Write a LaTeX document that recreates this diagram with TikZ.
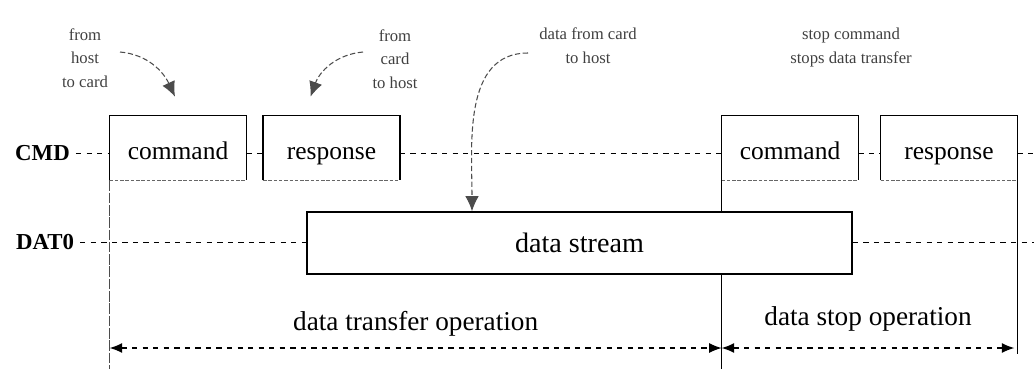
\documentclass[tikz,border=0pt]{standalone}
\usepackage{fontspec}
\setmainfont{Liberation Serif}
\usetikzlibrary{arrows.meta}

\begin{document}
\begin{tikzpicture}[
    lane/.style={font=\fontsize{13}{15}\selectfont\bfseries},
    frame/.style={minimum width=2.72cm, minimum height=1.28cm, inner sep=0pt,
                  text height=1.4em, text depth=0.1em, font=\fontsize{14.5}{17}\selectfont},
    wire/.style={line width=0.5pt, dash pattern=on 3pt off 3pt},
    edge/.style={line width=0.9pt},
    base/.style={line width=0.35pt, dash pattern=on 2pt off 1pt, black!60},
    note/.style={align=center, font=\fontsize{9.5}{13.5}\selectfont, text=black!75},
    hint/.style={line width=0.6pt, dash pattern=on 3pt off 1.5pt, black!70, -{Latex[length=0.3cm, width=0.27cm]}},
    span/.style={line width=0.7pt, dash pattern=on 3pt off 3pt, {Latex[length=0.25cm, width=0.2cm]}-{Latex[length=0.25cm, width=0.2cm]}},
  ]
  \useasboundingbox (0, 0) rectangle (20.68, -7.38);

  % signal names
  \node[lane] (cmd) at (0.85, -3.06) {CMD};
  \node[lane] (dat) at (0.90, -4.84) {DAT0};
  \coordinate (bottom) at (0, -7.38);
  \coordinate (arrows) at (0, -6.96);

  % command / response pairs
  \node[frame] (cmdA) at (3.56, -2.96) {command};
  \node[frame] (respA) at (6.63, -2.96) {response};
  \node[frame] (cmdB) at (15.80, -2.96) {command};
  \node[frame] (respB) at (18.98, -2.96) {response};

  \foreach \b in {cmdA, respA, cmdB, respB} {
    \draw[edge] (\b.south west) |- (\b.north east) -- (\b.south east);
    \draw[base] (\b.south west) -- (\b.south east);
  }

  % CMD line
  \draw[wire] (cmd.east) -- (cmd.east -| cmdA.west);
  \draw[wire] (cmdA.east |- cmd.east) -- (respA.west |- cmd.east);
  \draw[wire] (respA.east |- cmd.east) -- (cmdB.west |- cmd.east);
  \draw[wire] (cmdB.east |- cmd.east) -- (respB.west |- cmd.east);
  \draw[wire] (respB.east |- cmd.east) -- (20.68, -3.06);

  % operation borders
  \draw[line width=0.4pt, dash pattern=on 6pt off 1pt, black!70] (cmdA.south west) -- (cmdA.south west |- bottom);
  \draw[line width=0.6pt] (cmdB.south west) -- (cmdB.south west |- bottom);
  \draw[line width=0.5pt] (respB.south east) -- ([yshift=0.3cm]respB.south east |- bottom);

  % DAT0 line
  \node[draw, edge, fill=white, minimum width=10.90cm, minimum height=1.24cm,
        font=\fontsize{16}{19}\selectfont] (stream) at (11.59, -4.86) {data stream};
  \draw[wire] (dat.east) -- (dat.east -| stream.west);
  \draw[wire] (stream.east |- dat.east) -- (20.68, -4.84);

  % notes
  \node[note] (toCard) at (1.70, -1.16) {from\\host\\to card};
  \node[note] (toHost) at (7.90, -1.18) {from\\card\\to host};
  \node[note] (dataNote) at (11.76, -0.92) {data from card\\to host};
  \node[note] (stopNote) at (17.02, -0.95) {stop command\\stops data transfer};

  \coordinate (h1) at (2.40, -1.04);
  \coordinate (h2) at (7.26, -1.04);
  \coordinate (h3) at (10.56, -1.06);
  \draw[hint] (h1) to[out=-5, in=115] ([xshift=-0.06cm, yshift=0.38cm]cmdA.north);
  \draw[hint] (h2) to[out=185, in=70] ([xshift=-0.42cm, yshift=0.38cm]respA.north);
  \draw[hint] (h3) to[out=180, in=90] ([xshift=-2.15cm]stream.north);

  % operations
  \draw[span] (cmdA.west |- arrows) -- node[above=1mm, font=\fontsize{15.5}{18}\selectfont] {data transfer operation} (cmdB.west |- arrows);
  \draw[span] (cmdB.west |- arrows) -- node[above=2mm, font=\fontsize{15.5}{18}\selectfont] {data stop operation} ([xshift=-0.06cm]respB.east |- arrows);
\end{tikzpicture}
\end{document}
